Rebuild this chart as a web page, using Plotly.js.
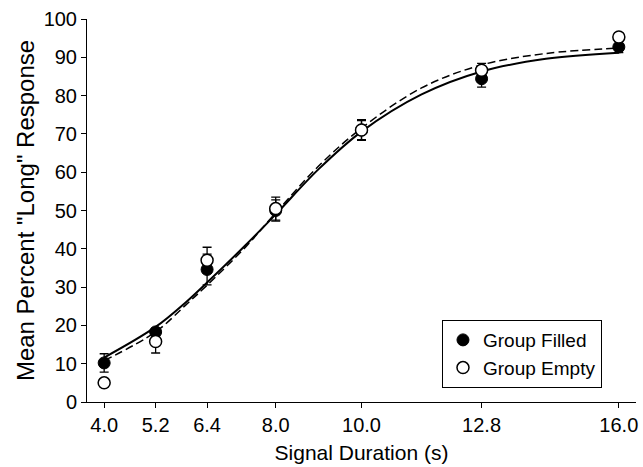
<!DOCTYPE html>
<html>
<head>
<meta charset="utf-8">
<script src="https://cdn.plot.ly/plotly-3.0.1.min.js"></script>
<style>html,body{margin:0;padding:0;background:#fff;}#chart{width:643px;height:467px;}</style>
</head>
<body>
<div id="chart"></div>
<script>
// Signal durations (s)
var durations = [4.0, 5.2, 6.4, 8.0, 10.0, 12.8, 16.0];
var tickLabels = ["4.0", "5.2", "6.4", "8.0", "10.0", "12.8", "16.0"];

// Observed means
var filledMeans = [10.2, 18.3, 34.6, 50.0, 71.0, 84.4, 92.7];
var filledErr   = [2.4, 1.0, 4.0, 2.8, 2.5, 2.2, 1.5];
var emptyMeans  = [5.0, 15.8, 37.0, 50.5, 71.0, 86.6, 95.3];
var emptyErr    = [1.0, 3.0, 3.4, 3.0, 2.7, 1.8, 1.0];

// Fitted curves
var curveX      = [4.0, 5.2, 5.9, 6.4, 7.3, 8.0, 9.0, 10.0, 11.4, 12.8, 14.3, 16.0];
var filledCurve = [11.6, 19.6, 26.0, 31.2, 41.0, 49.0, 60.8, 70.6, 80.3, 86.3, 89.6, 91.2];
var emptyCurve  = [10.8, 18.3, 25.3, 30.5, 40.5, 49.4, 61.6, 71.5, 82.0, 88.0, 91.0, 92.4];

var font = "Liberation Sans, Arial, Helvetica, sans-serif";

var traces = [
  {x: curveX, y: filledCurve, mode: "lines", line: {color: "#000", width: 2, shape: "spline", smoothing: 1}, showlegend: false, hoverinfo: "skip"},
  {x: curveX, y: emptyCurve, mode: "lines", line: {color: "#000", width: 1.5, dash: "8px,4px", shape: "spline", smoothing: 1}, showlegend: false, hoverinfo: "skip"},
  {x: durations, y: filledMeans, mode: "markers", name: "Group Filled",
   marker: {symbol: "circle", size: 12, color: "#000", line: {color: "#000", width: 1}},
   error_y: {type: "data", array: filledErr, visible: true, color: "#000", thickness: 1.3, width: 4.5}},
  {x: durations, y: emptyMeans, mode: "markers", name: "Group Empty",
   marker: {symbol: "circle", size: 12, color: "#fff", line: {color: "#000", width: 1.5}},
   error_y: {type: "data", array: emptyErr, visible: true, color: "#000", thickness: 1.3, width: 4.5}}
];

var layout = {
  width: 643, height: 467,
  margin: {l: 87, r: 7, t: 19, b: 65},
  paper_bgcolor: "#fff", plot_bgcolor: "#fff",
  font: {family: font, size: 20, color: "#000"},
  showlegend: true,
  legend: {x: 0.6466, y: 0.214, xanchor: "left", yanchor: "top",
           bordercolor: "#000", borderwidth: 1, bgcolor: "#fff",
           font: {family: font, size: 19, color: "#000"}, itemwidth: 30, tracegroupgap: 0},
  xaxis: {
    range: [3.6, 16.4], tickmode: "array", tickvals: durations, ticktext: tickLabels,
    ticks: "outside", ticklen: 5, tickwidth: 1, tickcolor: "#000",
    showline: true, linecolor: "#000", linewidth: 1, showgrid: false, zeroline: false,
    tickfont: {family: font, size: 20, color: "#000"},
    title: {text: "Signal Duration (s)", font: {family: font, size: 21, color: "#000"}, standoff: 10}
  },
  yaxis: {
    range: [0, 100], tickmode: "linear", tick0: 0, dtick: 10,
    ticks: "outside", ticklen: 5, tickwidth: 1, tickcolor: "#000",
    showline: true, linecolor: "#000", linewidth: 1, showgrid: false, zeroline: false,
    tickfont: {family: font, size: 20, color: "#000"},
    title: {text: "Mean Percent \"Long\" Response", font: {family: font, size: 24, color: "#000"}, standoff: 2}
  }
};

Plotly.newPlot("chart", traces, layout, {displayModeBar: false, staticPlot: true});
</script>
</body>
</html>
